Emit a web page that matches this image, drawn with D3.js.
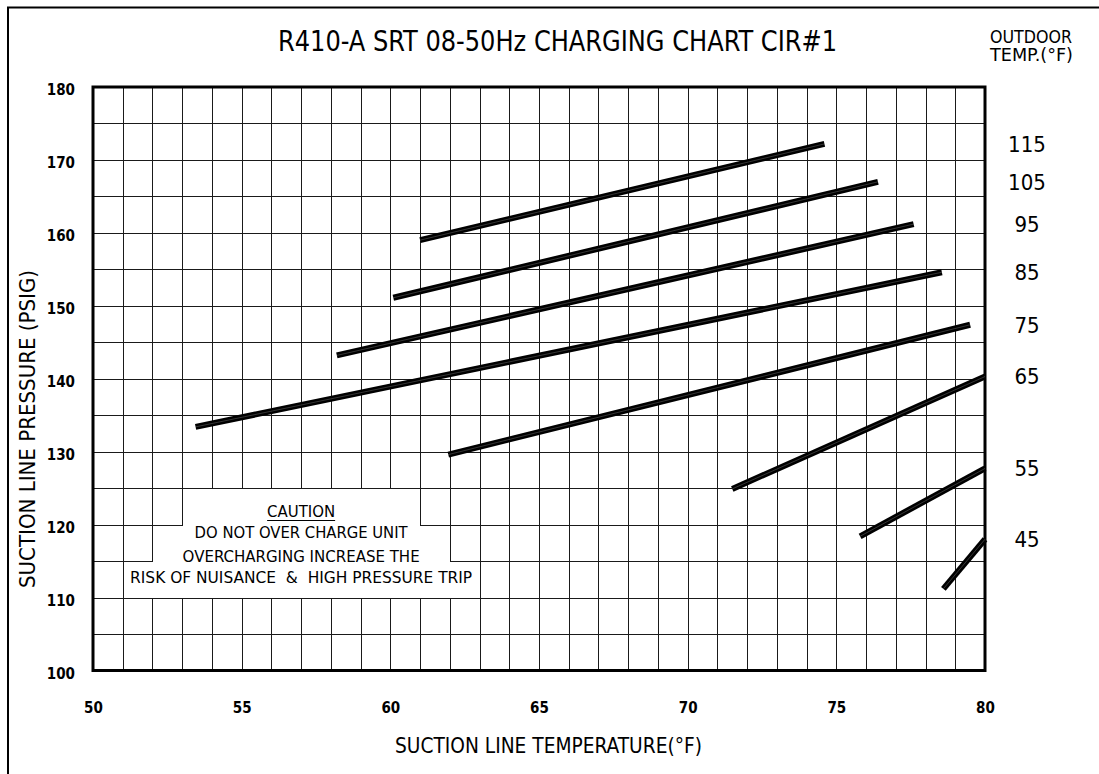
<!DOCTYPE html>
<html><head><meta charset="utf-8">
<script src="https://cdn.jsdelivr.net/npm/d3@7"></script>
<style>
html,body{margin:0;padding:0;background:#fff;}
svg{display:block;}
text{font-family:"DejaVu Sans Condensed","DejaVu Sans",sans-serif;font-stretch:condensed;fill:#000;white-space:pre;}
</style></head><body>
<svg id="chart" width="1099" height="774"></svg>
<script>
// ---- data ----
const titleText = "R410-A SRT 08-50Hz CHARGING CHART CIR#1";
const xAxisTitle = "SUCTION LINE TEMPERATURE(°F)";
const yAxisTitle = "SUCTION LINE PRESSURE (PSIG)";
const legendTitle = ["OUTDOOR", "TEMP.(°F)"];
const xTickLabels = [50, 55, 60, 65, 70, 75, 80];
const yTickLabels = [100, 110, 120, 130, 140, 150, 160, 170, 180];
const outdoorTemps = [115, 105, 95, 85, 75, 65, 55, 45];
// [suction temp °F, suction pressure psig]
const line115 = [[61.0, 159.0], [74.6, 172.2]];
const line105 = [[60.1, 151.1], [76.4, 167.0]];
const line95  = [[58.2, 143.2], [77.6, 161.2]];
const line85  = [[53.45, 133.4], [78.55, 154.6]];
const line75  = [[61.95, 129.6], [79.5, 147.4]];
const line65  = [[71.5, 124.9], [80.0, 140.3]];
const line55  = [[75.8, 118.4], [80.0, 127.7]];
const line45  = [[78.6, 111.2], [80.0, 118.0]];
const seriesLines = [line115, line105, line95, line85, line75, line65, line55, line45];
const cautionHead = "CAUTION";
const cautionLines = ["DO NOT OVER CHARGE UNIT", "OVERCHARGING INCREASE THE", "RISK OF NUISANCE  &  HIGH PRESSURE TRIP"];

// ---- drawing ----
const svg = d3.select("#chart");
const x = d3.scaleLinear().domain([50, 80]).range([93, 985]);
const y = d3.scaleLinear().domain([100, 180]).range([670.5, 87]);
const px = v => Math.round(v) + 0.5;

// outer frame (partial)
svg.append("path").attr("d", "M8,774 V7.5 H1099").attr("fill", "none").attr("stroke", "#000").attr("stroke-width", 2);

// grid
const g = svg.append("g");
const vGrid = d3.range(51, 80);
const hGrid = d3.range(105, 180, 5);
g.selectAll("line.v").data(vGrid).join("line").attr("class", "v")
  .attr("x1", d => px(x(d))).attr("x2", d => px(x(d))).attr("y1", y(180)).attr("y2", y(100))
  .attr("stroke", "#1a1a1a").attr("stroke-width", 1);
g.selectAll("line.h").data(hGrid).join("line").attr("class", "h")
  .attr("x1", x(50)).attr("x2", x(80)).attr("y1", d => px(y(d))).attr("y2", d => px(y(d)))
  .attr("stroke", "#1a1a1a").attr("stroke-width", 1);

// caution box (clears grid)
const tiers = [[53, 61, 125], [52, 62, 120], [51, 63, 115]];
g.selectAll("rect.c").data(tiers).join("rect").attr("class", "c")
  .attr("x", d => px(x(d[0])) + 0.5).attr("width", d => px(x(d[1])) - px(x(d[0])) - 1)
  .attr("y", d => px(y(d[2])) + 0.5).attr("height", d => px(y(110)) - px(y(d[2])) - 1)
  .attr("fill", "#fff");

const cx = x(57);
svg.append("text").attr("x", cx).attr("y", 517).attr("text-anchor", "middle")
  .attr("font-size", 16).attr("textLength", 68).attr("lengthAdjust", "spacingAndGlyphs").text(cautionHead);
svg.append("line").attr("x1", cx - 34).attr("x2", cx + 34).attr("y1", 520.5).attr("y2", 520.5).attr("stroke", "#000").attr("stroke-width", 1);
const cautionBase = [538, 561.5, 583];
const cautionLen = [213, 237, 342];
cautionLines.forEach((t, i) => {
  svg.append("text").attr("x", cx).attr("y", cautionBase[i]).attr("text-anchor", "middle")
    .attr("font-size", 16).attr("textLength", cautionLen[i]).attr("lengthAdjust", "spacingAndGlyphs").text(t);
});

// plot frame
svg.append("rect").attr("x", x(50)).attr("y", y(180)).attr("width", x(80) - x(50)).attr("height", y(100) - y(180))
  .attr("fill", "none").attr("stroke", "#000").attr("stroke-width", 3);

// data lines
const lineGen = d3.line().x(d => x(d[0])).y(d => y(d[1]));
seriesLines.forEach(pts => {
  svg.append("path").attr("d", lineGen(pts)).attr("fill", "none").attr("stroke", "#000")
    .attr("stroke-width", 6).attr("stroke-linecap", "butt");
  svg.append("path").attr("d", lineGen(pts)).attr("fill", "none").attr("stroke", "#fff")
    .attr("stroke-width", 0.6).attr("stroke-opacity", 0.35);
});

// outdoor temp labels at each line's right end
seriesLines.forEach((pts, i) => {
  svg.append("text").attr("x", 1027).attr("y", y(pts[pts.length - 1][1])).attr("dy", "0.36em")
    .attr("text-anchor", "middle").attr("font-size", 22).text(outdoorTemps[i]);
});

// axes
const yAxis = svg.append("g").attr("transform", `translate(${x(50)},0)`)
  .call(d3.axisLeft(y).tickValues(yTickLabels).tickSize(0).tickPadding(18).tickFormat(d3.format("d")));
const xAxis = svg.append("g").attr("transform", `translate(0,${y(100)})`)
  .call(d3.axisBottom(x).tickValues(xTickLabels).tickSize(0).tickPadding(32).tickFormat(d3.format("d")));
[yAxis, xAxis].forEach(a => {
  a.select(".domain").remove();
  a.selectAll("text").attr("font-family", "DejaVu Sans Condensed, DejaVu Sans, sans-serif")
    .attr("font-size", 15).attr("font-weight", "bold").attr("fill", "#000");
});
yAxis.selectAll(".tick text").attr("transform", "translate(0,3)");

// titles
svg.append("text").attr("x", 557.5).attr("y", 51).attr("text-anchor", "middle").attr("font-size", 28)
  .attr("textLength", 559).attr("lengthAdjust", "spacingAndGlyphs").text(titleText);
svg.append("text").attr("x", 990).attr("y", 43).attr("font-size", 17)
  .attr("textLength", 82).attr("lengthAdjust", "spacingAndGlyphs").text(legendTitle[0]);
svg.append("text").attr("x", 990).attr("y", 61).attr("font-size", 17)
  .attr("textLength", 83).attr("lengthAdjust", "spacingAndGlyphs").text(legendTitle[1]);
svg.append("text").attr("x", 548.5).attr("y", 753).attr("text-anchor", "middle").attr("font-size", 21)
  .attr("textLength", 307).attr("lengthAdjust", "spacingAndGlyphs").text(xAxisTitle);
svg.append("text").attr("transform", "translate(35,429) rotate(-90)").attr("text-anchor", "middle").attr("font-size", 21)
  .attr("textLength", 318).attr("lengthAdjust", "spacingAndGlyphs").text(yAxisTitle);
</script>
</body></html>
